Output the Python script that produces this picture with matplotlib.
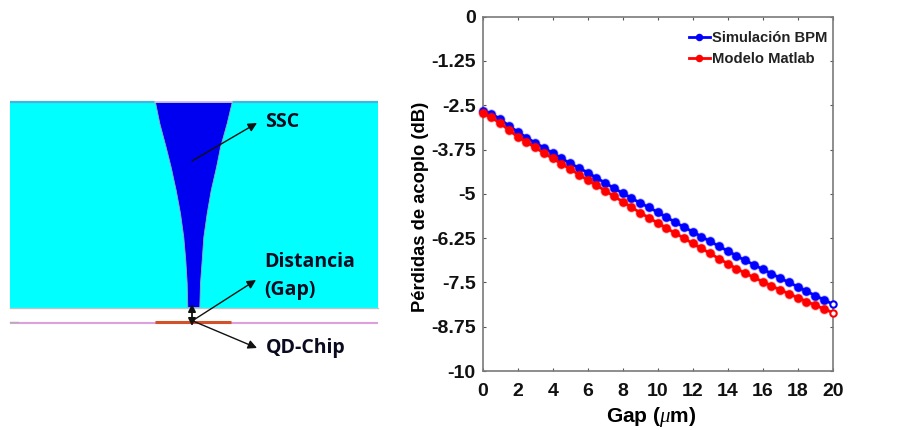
import numpy as np
import matplotlib
matplotlib.use("Agg")
import matplotlib.pyplot as plt

plt.rcParams["mathtext.fontset"] = "custom"
plt.rcParams["mathtext.it"] = "Liberation Serif:italic"
plt.rcParams["mathtext.rm"] = "Liberation Sans:bold"
plt.rcParams["mathtext.default"] = "regular"

# ---- chart data ----
gap_um = np.arange(0, 20.5, 0.5)
bpm_loss = [-2.66, -2.74, -2.89, -3.08, -3.25, -3.41, -3.56, -3.70, -3.85, -4.00,
            -4.14, -4.27, -4.40, -4.55, -4.69, -4.84, -4.98, -5.12, -5.26, -5.38,
            -5.52, -5.66, -5.80, -5.94, -6.07, -6.21, -6.34, -6.48, -6.61, -6.75,
            -6.88, -7.00, -7.13, -7.25, -7.38, -7.50, -7.62, -7.75, -7.87, -7.99, -8.11]
matlab_loss = [-2.73, -2.84, -3.01, -3.20, -3.39, -3.54, -3.69, -3.85, -4.00, -4.15,
               -4.30, -4.46, -4.61, -4.76, -4.91, -5.07, -5.22, -5.38, -5.53, -5.68,
               -5.82, -5.97, -6.11, -6.25, -6.40, -6.54, -6.68, -6.83, -6.97, -7.11,
               -7.24, -7.36, -7.48, -7.60, -7.71, -7.82, -7.93, -8.04, -8.14, -8.25, -8.35]
x_ticks = list(range(0, 21, 2))
y_ticks = [0, -1.25, -2.5, -3.75, -5, -6.25, -7.5, -8.75, -10]
y_tick_labels = ["0", "-1.25", "-2.5", "-3.75", "-5", "-6.25", "-7.5", "-8.75", "-10"]
series_names = ["Simulación BPM", "Modelo Matlab"]

# ---- schematic outline (image pixels) ----
ssc_y = [102, 123, 147, 167, 190, 213, 237, 260, 283, 307]
ssc_left = [155, 159.3, 165.7, 170.7, 175.7, 180, 183.3, 185.3, 186.7, 187.3]
ssc_right = [231.7, 226.7, 220, 216, 210.7, 206.7, 203.3, 201.7, 200, 199.3]

W, H = 899, 430
fig = plt.figure(figsize=(W / 100, H / 100), dpi=100, facecolor="white")

# schematic panel in pixel coordinates
bg = fig.add_axes([0, 0, 1, 1])
bg.set_xlim(0, W)
bg.set_ylim(H, 0)
bg.axis("off")
bg.fill_between([10, 378], 102, 308, color="#00FFFF", lw=0)
bg.plot([10, 155], [101.5, 101.5], color="#45B4DC", lw=1.6, solid_capstyle="butt")
bg.plot([232, 378], [101.5, 101.5], color="#45B4DC", lw=1.6, solid_capstyle="butt")
bg.plot([10, 378], [308, 308], color="#B4C8C8", lw=1.0)
bg.fill_betweenx(ssc_y, ssc_left, ssc_right, color="#0000F0", lw=0.6, edgecolor="#90B0C0")
bg.plot([155, 232], [101.5, 101.5], color="#C8B8E0", lw=1.2)
bg.plot([10, 378], [322.5, 322.5], color="#DDA0DD", lw=1.5, solid_capstyle="butt")
bg.plot([155, 231], [322, 322], color="#D2502A", lw=2.2, solid_capstyle="butt")
bg.plot([10, 18], [322, 322], color="#B0B0B0", lw=1.0)


def arrow(start, end, style="-|>", lw=1.0, scale=13):
    bg.annotate("", xy=end, xytext=start,
                arrowprops=dict(arrowstyle=style, color="#111111", lw=lw, shrinkA=0, shrinkB=0,
                                mutation_scale=scale))


arrow((192, 161), (257, 123))
arrow((192, 321), (256, 280))
arrow((193, 321), (257, 348))
arrow((192, 304), (192, 326), style="<|-|>", lw=1.3, scale=11)

lab = dict(family="Open Sans", fontweight="bold", fontsize=14, color="#0A0A20", va="center", ha="left")
bg.text(265, 122, "SSC", **lab)
bg.text(264, 262, "Distancia", **lab)
bg.text(264, 290, "(Gap)", **lab)
bg.text(266, 348, "QD-Chip", **lab)

# line chart
left, right, top, bottom = 482.7, 832.7, 16.7, 371
ax = fig.add_axes([left / W, 1 - bottom / H, (right - left) / W, (bottom - top) / H])
ax.patch.set_alpha(0)
colors = ["#0000FF", "#FF0000"]
for vals, col in zip([bpm_loss, matlab_loss], colors):
    ax.plot(gap_um[:-1], vals[:-1], color=col, ls="none", marker="o", ms=7.4, mew=0, alpha=0.3,
            clip_on=False, zorder=3)
    ax.plot(gap_um[:-1], vals[:-1], color=col, lw=2.0, marker="o", ms=6.2, mew=0,
            clip_on=False, zorder=3)
    ax.plot(gap_um[-2:], vals[-2:], color=col, lw=2.0, clip_on=False, zorder=3)
    ax.plot(gap_um[-1:], vals[-1:], color=col, marker="o", ms=4.6, mew=1.5, mfc="white",
            mec=col, ls="none", clip_on=False, zorder=4)
ax.set_xlim(0, 20)
ax.set_ylim(-10, 0)
ax.set_xticks(x_ticks)
ax.set_yticks(y_ticks)
ax.set_yticklabels(y_tick_labels)
for s in ax.spines.values():
    s.set_color("#7A7A7A")
    s.set_linewidth(1.2)
ax.tick_params(direction="in", length=2.5, width=0.8, color="#555555", top=True, right=True)
ax.tick_params(axis="x", pad=9)
ax.tick_params(axis="y", pad=5)
for t in ax.get_xticklabels() + ax.get_yticklabels():
    t.set_family("Liberation Sans")
    t.set_fontweight("bold")
    t.set_fontsize(14)
    t.set_color("#111111")
ax.set_xlabel("Gap ($\\mathit{\\mu}$m)", family="Liberation Sans", fontweight="bold", fontsize=15,
              labelpad=3.5, x=0.482)
ax.set_ylabel("Pérdidas de acoplo (dB)", family="Liberation Sans", fontweight="bold", fontsize=13.2,
              labelpad=1.5, y=0.463)

leg_handles = [plt.Line2D([], [], color=c, lw=2.0, marker="o", ms=5.4, mew=0) for c in colors]
leg = ax.legend(leg_handles, series_names, loc="upper right", frameon=False, handlelength=1.45,
                handletextpad=0.15, labelspacing=0.5, borderaxespad=0, borderpad=0,
                bbox_to_anchor=(0.985, 0.96),
                prop=dict(family="Liberation Sans", weight="bold", size=10.6))
for t in leg.get_texts():
    t.set_color("#222222")

fig.savefig("out.png", dpi=100)
